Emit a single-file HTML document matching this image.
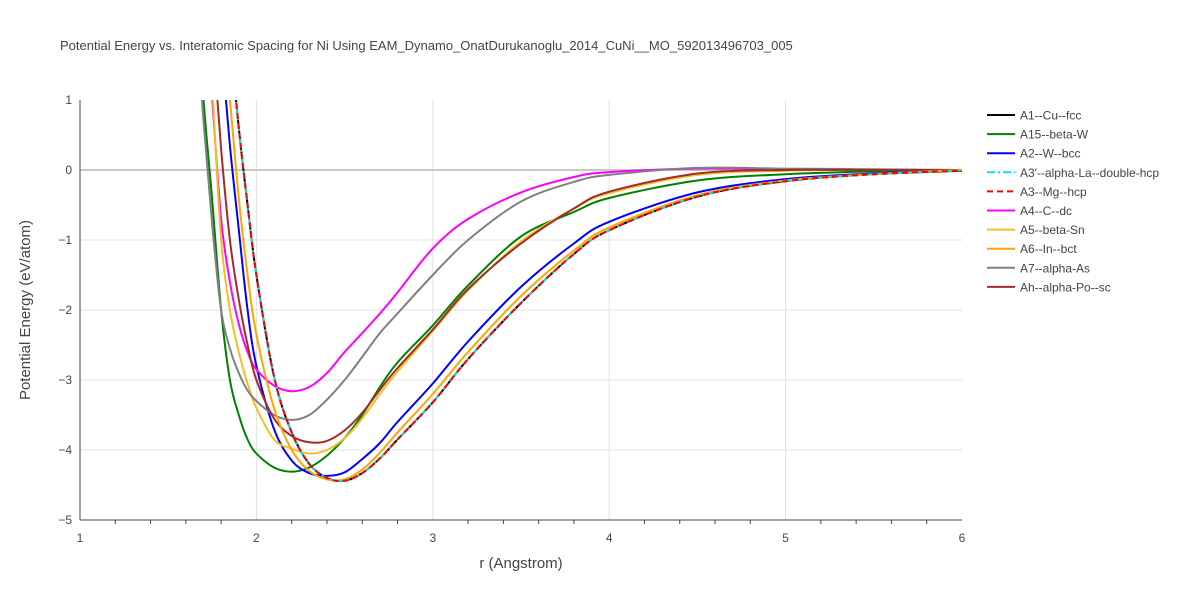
<!DOCTYPE html>
<html><head><meta charset="utf-8">
<style>
body{margin:0;background:#fff;font-family:"Liberation Sans",sans-serif;}
svg text{font-family:"Liberation Sans",sans-serif;}
</style></head>
<body>
<svg id="chart" width="1200" height="600" xmlns="http://www.w3.org/2000/svg">
<rect width="1200" height="600" fill="#fff"/>
<text x="60" y="50" font-size="13" fill="#444">Potential Energy vs. Interatomic Spacing for Ni Using EAM_Dynamo_OnatDurukanoglu_2014_CuNi__MO_592013496703_005</text>
<defs><clipPath id="clip"><rect x="80" y="100" width="882" height="420"/></clipPath></defs>
<g id="grid"></g>
<g id="axes"></g>
<g id="series" clip-path="url(#clip)"></g>
<g id="legend"></g>
<text x="521" y="568" font-size="15" fill="#444" text-anchor="middle">r (Angstrom)</text>
<text transform="translate(30,310) rotate(-90)" font-size="15" fill="#444" text-anchor="middle">Potential Energy (eV/atom)</text>
</svg>
<script>
const rGrid=[1.65,1.7,1.75,1.8,1.85,1.9,1.95,2.0,2.1,2.2,2.3,2.4,2.5,2.6,2.7,2.8,3.0,3.2,3.5,3.8,4.0,4.5,5.0,5.5,6.0];
const seriesNames=["A1--Cu--fcc","A15--beta-W","A2--W--bcc","A3'--alpha-La--double-hcp","A3--Mg--hcp","A4--C--dc","A5--beta-Sn","A6--In--bct","A7--alpha-As","Ah--alpha-Po--sc"];
const eA1=[7.5,6,4.5,3.1,1.9,0.6,-0.5,-1.5,-2.95,-3.75,-4.2,-4.4,-4.44,-4.33,-4.12,-3.85,-3.32,-2.7,-1.9,-1.2,-0.86,-0.38,-0.16,-0.06,-0.01];
const eA15=[2.8,1.0,-0.45,-2.0,-3.0,-3.5,-3.85,-4.05,-4.25,-4.31,-4.25,-4.08,-3.83,-3.5,-3.1,-2.75,-2.22,-1.65,-0.95,-0.6,-0.4,-0.15,-0.06,-0.02,0];
const eA2=[6.5,5,3.3,1.8,0.35,-0.85,-2.0,-2.8,-3.7,-4.15,-4.33,-4.37,-4.32,-4.13,-3.9,-3.6,-3.05,-2.45,-1.67,-1.05,-0.74,-0.32,-0.13,-0.05,0];
const eA3p=[7.5,6,4.5,3.1,1.9,0.6,-0.5,-1.5,-2.95,-3.75,-4.2,-4.4,-4.44,-4.33,-4.12,-3.85,-3.32,-2.7,-1.9,-1.2,-0.86,-0.38,-0.16,-0.06,-0.01];
const eA3=[7.5,6,4.5,3.1,1.9,0.6,-0.5,-1.5,-2.95,-3.75,-4.2,-4.4,-4.44,-4.33,-4.12,-3.85,-3.32,-2.7,-1.9,-1.2,-0.86,-0.38,-0.16,-0.06,-0.01];
const eA4=[4.5,2.8,1.0,-0.7,-1.6,-2.2,-2.6,-2.85,-3.08,-3.16,-3.1,-2.9,-2.6,-2.33,-2.05,-1.75,-1.12,-0.7,-0.32,-0.1,-0.03,0.02,0.01,0,0];
const eA5=[5,3.5,1.2,-1.0,-2.0,-2.6,-3.05,-3.4,-3.85,-3.98,-4.05,-4.0,-3.83,-3.55,-3.2,-2.88,-2.3,-1.72,-1.02,-0.55,-0.33,-0.07,-0.01,0,0];
const eA6=[7,5.5,3.9,2.3,1.0,-0.4,-1.5,-2.35,-3.4,-4.0,-4.3,-4.42,-4.42,-4.28,-4.04,-3.75,-3.2,-2.6,-1.8,-1.15,-0.82,-0.36,-0.15,-0.06,0];
const eA7=[2.5,0.7,-0.8,-2.0,-2.55,-2.9,-3.15,-3.3,-3.5,-3.57,-3.5,-3.28,-3.0,-2.67,-2.33,-2.05,-1.5,-1.0,-0.45,-0.17,-0.07,0.03,0.02,0.01,0];
const eAh=[5.2,3.6,2.0,0.3,-1.0,-1.85,-2.5,-3.0,-3.55,-3.8,-3.89,-3.87,-3.72,-3.47,-3.14,-2.83,-2.28,-1.7,-1.05,-0.55,-0.31,-0.05,0,0,0];
const xTicks=[1,2,3,4,5,6];
const yTicks=[1,0,-1,-2,-3,-4,-5];

const NS="http://www.w3.org/2000/svg";
const X0=80,X1=962,Y0=100,Y1=520;
function xs(r){return X0+(r-1)/(6-1)*(X1-X0);}
function ys(e){return Y0+(1-e)/(1-(-5))*(Y1-Y0);}
function mk(tag,attrs,parent){const el=document.createElementNS(NS,tag);for(const k in attrs)el.setAttribute(k,attrs[k]);parent.appendChild(el);return el;}

const grid=document.getElementById('grid'),axes=document.getElementById('axes');
xTicks.forEach(t=>{
  if(t>1&&t<6){const l=mk('line',{x1:xs(t),x2:xs(t),y1:Y0,y2:Y1,stroke:'#e1e1e1','stroke-width':1},grid);
  
  }
  const tx=mk('text',{x:xs(t),y:Y1+22,'font-size':12,fill:'#444','text-anchor':'middle'},axes);
  tx.textContent=t;
  
  
});
for(let r=1.2;r<6;r+=0.2){if(Math.abs(r-Math.round(r))<0.01)continue;
  const m=mk('line',{x1:xs(r),x2:xs(r),y1:Y1,y2:Y1+4,stroke:'#444','stroke-width':1},axes);
  
  }
yTicks.forEach(t=>{
  if(t<1&&t>-5){const l=mk('line',{x1:X0,x2:X1,y1:ys(t),y2:ys(t),stroke:t===0?'#c8c8c8':'#e1e1e1','stroke-width':t===0?2:1},grid);
  
  }
  const tx=mk('text',{x:X0-8,y:ys(t)+4,'font-size':12,fill:'#444','text-anchor':'end'},axes);
  tx.textContent=t<0?'\u2212'+(-t):t;
  
  
});
const xl=mk('line',{x1:X0,x2:X1,y1:Y1,y2:Y1,stroke:'#444','stroke-width':1},axes);


const yl=mk('line',{x1:X0,x2:X0,y1:Y0,y2:Y1,stroke:'#444','stroke-width':1},axes);



function pathFor(vals){
  const p=rGrid.map((r,i)=>[xs(r),ys(vals[i])]);
  let d='M'+p[0][0].toFixed(1)+','+p[0][1].toFixed(1);
  for(let i=0;i<p.length-1;i++){
    const a=p[i-1]||p[i],b=p[i],c=p[i+1],e=p[i+2]||c;
    const c1=[b[0]+(c[0]-a[0])/6,b[1]+(c[1]-a[1])/6];
    const c2=[c[0]-(e[0]-b[0])/6,c[1]-(e[1]-b[1])/6];
    d+=' C'+c1.map(v=>v.toFixed(1))+' '+c2.map(v=>v.toFixed(1))+' '+c[0].toFixed(1)+','+c[1].toFixed(1);
  }
  return d;
}
const seriesVals=[eA1,eA15,eA2,eA3p,eA3,eA4,eA5,eA6,eA7,eAh];
const colors=['#000000','#008000','#0000ff','#00e5e5','#ff0000','#ff00ff','#f0c020','#ffa500','#808080','#a52a2a'];
const dashes=['','','','8,3,2,3','6,4','','','','',''];
const drawOrder=[0,1,2,5,6,8,9,7,3,4];
const sg=document.getElementById('series');
drawOrder.forEach(i=>{
  const p=mk('path',{d:pathFor(seriesVals[i]),fill:'none',stroke:colors[i],'stroke-width':2},sg);
  if(dashes[i])p.setAttribute('stroke-dasharray',dashes[i]);
  
  
});
const lg=document.getElementById('legend');
seriesNames.forEach((n,i)=>{
  const y=115+i*19.1;
  const g=mk('g',{},lg);
  
  
  const l=mk('line',{x1:987,x2:1015,y1:y,y2:y,stroke:colors[i],'stroke-width':2},g);
  if(dashes[i])l.setAttribute('stroke-dasharray',dashes[i]);
  
  
  const t=mk('text',{x:1020,y:y+4.5,'font-size':12,fill:'#444'},g);
  t.textContent=n;
  
  
});
</script>
</body></html>
